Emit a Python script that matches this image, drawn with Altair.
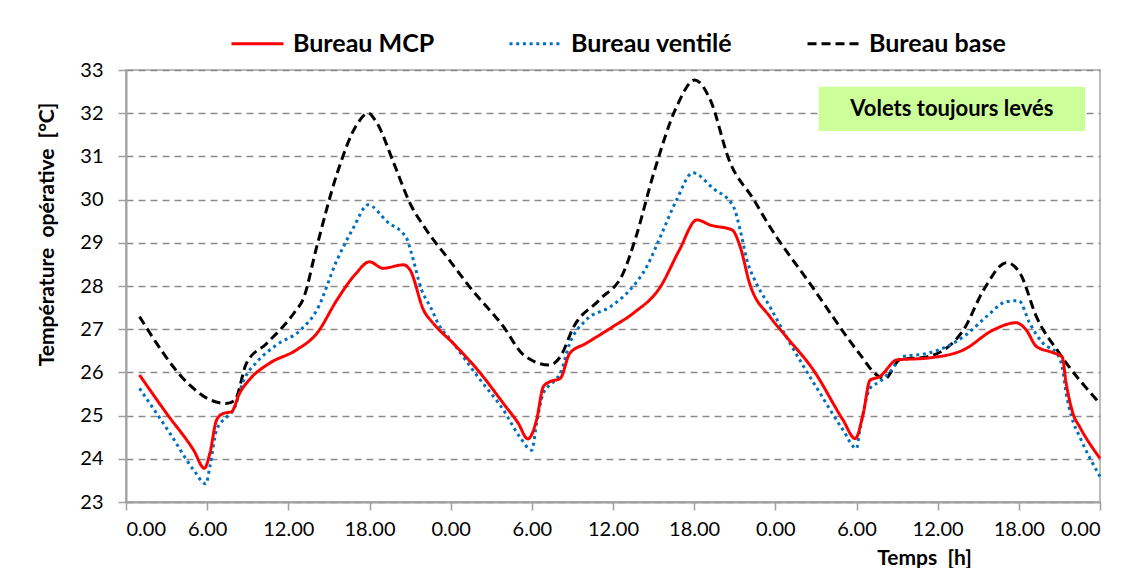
import altair as alt
import pandas as pd

# ---- data ----
mcp_h = [1, 3, 5, 5.8, 6.2, 6.7, 7.2, 7.8, 8.4, 9.2, 10.6, 12.6, 14.1, 15.6, 17.0, 18.0, 19.0, 20.5, 21.0, 22.0,
         22.7, 24.2, 26.2, 27.9, 29.0, 29.7, 30.35, 30.85, 31.3, 32.1, 32.8, 34.0, 36.0, 37.5, 39.5, 40.9, 42.2,
         43.2, 44.8, 45.4, 46.1, 47.6, 48.8, 50.8, 53.0, 53.9, 54.5, 55.0, 55.7, 57.0, 59.2, 61.9, 64.1, 65.8,
         66.55, 67.3, 68.5, 69.2, 69.5, 70.0, 70.5, 72.0]
mcp_t = [25.94, 25.05, 24.2, 23.78, 24.13, 24.9, 25.05, 25.09, 25.52, 25.86, 26.21, 26.52, 26.9, 27.68, 28.29,
         28.56, 28.41, 28.49, 28.37, 27.44, 27.14, 26.67, 25.98, 25.28, 24.82, 24.46, 24.9, 25.67, 25.78, 25.86,
         26.44, 26.67, 27.06, 27.37, 27.98, 28.83, 29.53, 29.41, 29.3, 28.91, 28.06, 27.29, 26.83, 26.06, 24.9,
         24.47, 25.05, 25.82, 25.9, 26.29, 26.33, 26.52, 26.98, 27.15, 26.98, 26.6, 26.46, 26.36, 25.75, 25.05,
         24.74, 24.01]

vent_h = [1, 3.25, 5.0, 5.9, 6.2, 6.7, 7.45, 7.95, 8.7, 9.7, 11.1, 12.9, 14.1, 15.6, 16.8, 17.9, 19.3, 20.75,
          21.1, 21.85, 22.5, 23.2, 23.8, 26.2, 27.9, 29.1, 30.0, 30.35, 30.85, 31.6, 32.1, 32.8, 34.0, 35.8, 37.25,
          38.5, 39.5, 40.7, 41.9, 43.4, 44.9, 45.4, 45.9, 46.6, 47.6, 48.8, 51.3, 53.0, 54.0, 54.25, 55.0, 55.7,
          56.5, 57.4, 59.2, 60.7, 62.1, 63.6, 65.1, 66.0, 66.8, 67.8, 68.8, 69.2, 69.5, 69.9, 70.5, 72.0]
vent_t = [25.63, 24.59, 23.74, 23.42, 23.82, 24.67, 24.97, 25.13, 25.82, 26.25, 26.63, 26.98, 27.44, 28.6, 29.34,
          29.88, 29.49, 29.1, 28.76, 27.91, 27.52, 27.06, 26.83, 25.82, 25.13, 24.51, 24.2, 24.82, 25.52, 25.78,
          25.98, 26.67, 27.21, 27.52, 27.91, 28.45, 29.14, 29.99, 30.62, 30.26, 29.84, 29.3, 28.6, 28.06, 27.52,
          26.83, 25.52, 24.67, 24.24, 24.67, 25.63, 25.78, 26.02, 26.36, 26.44, 26.6, 26.87, 27.29, 27.64, 27.66,
          27.14, 26.67, 26.44, 26.13, 25.52, 24.97, 24.51, 23.59]

base_h = [1, 4.7, 6.0, 7.4, 8.05, 8.9, 10.4, 12.5, 13.1, 14.1, 15.6, 17.05, 17.9, 18.5, 19.8, 21.0, 22.2, 24.0,
          25.4, 27.9, 29.4, 31.3, 32.1, 33.1, 35.0, 36.8, 37.7, 39.0, 40.7, 42.05, 43.2, 44.6, 46.4, 47.6, 50.55,
          54.2, 55.5, 56.1, 57.2, 59.2, 61.9, 63.4, 65.1, 66.1, 67.3, 69.0, 72.0]
base_t = [27.29, 25.71, 25.4, 25.28, 25.36, 26.21, 26.67, 27.41, 27.7, 28.91, 30.6, 31.73, 32.0, 31.8, 30.84,
          29.91, 29.3, 28.56, 27.98, 27.06, 26.4, 26.17, 26.36, 27.06, 27.68, 28.33, 29.14, 30.6, 32.15, 32.77,
          32.3, 30.9, 30.0, 29.37, 28.06, 26.44, 25.94, 25.86, 26.29, 26.36, 26.98, 27.91, 28.54, 28.29, 27.29,
          26.44, 25.28]

series_names = ["Bureau MCP", "Bureau ventilé", "Bureau base"]
series_colors = ["#ff0000", "#0070c0", "#000000"]
series_dash = [[1, 0], [3, 3.7], [9, 5]]

x_ticks = list(range(0, 73, 6))
y_ticks = list(range(23, 34))

note_text = ["Volets toujours levés"]
note_x1, note_x2 = [51.2], [70.9]
note_y1, note_y2 = [31.59], [32.61]

# ---- tables ----
rows = []
for name, hs, ts in [(series_names[2], base_h, base_t),
                     (series_names[1], vent_h, vent_t),
                     (series_names[0], mcp_h, mcp_t)]:
    for h, t in zip(hs, ts):
        rows.append({"serie": name, "h": h, "T": t})
df = pd.DataFrame(rows)

note_df = pd.DataFrame({"x1": note_x1, "x2": note_x2, "y1": note_y1, "y2": note_y2,
                        "xm": [(a + b) / 2 for a, b in zip(note_x1, note_x2)],
                        "ym": [(a + b) / 2 for a, b in zip(note_y1, note_y2)],
                        "txt": note_text})

FONT = "Lato"

xscale = alt.Scale(domain=[0, 72], nice=False, zero=False)
yscale = alt.Scale(domain=[23, 33], nice=False, zero=False)

x_axis = alt.Axis(values=x_ticks, labelExpr="(datum.value % 24) + '.00'", grid=False,
                  title="Temps\u00a0 [h]", titleX=798, titleY=62, titleBaseline="alphabetic",
                  titleAnchor="start", titleAlign="center",
                  labelFontSize=20, labelPadding=9, tickSize=8)
y_axis = alt.Axis(values=y_ticks, grid=True, title="Température\u00a0 opérative\u00a0 [°C]",
                  titleX=-79, titleY=164, titleAngle=270, titleAlign="center", titleBaseline="middle",
                  labelFontSize=20, labelPadding=15, tickSize=8)

lines = alt.Chart(df).mark_line(interpolate="monotone", strokeWidth=3).encode(
    x=alt.X("h:Q", scale=xscale, axis=x_axis),
    y=alt.Y("T:Q", scale=yscale, axis=y_axis),
    color=alt.Color("serie:N", scale=alt.Scale(domain=series_names, range=series_colors), title=None),
    strokeDash=alt.StrokeDash("serie:N", scale=alt.Scale(domain=series_names, range=series_dash), title=None),
)

box = alt.Chart(note_df).mark_rect(color="#ccff99").encode(
    x=alt.X("x1:Q", scale=xscale), x2="x2:Q",
    y=alt.Y("y1:Q", scale=yscale), y2="y2:Q",
)
box_text = alt.Chart(note_df).mark_text(font=FONT, fontWeight="bold", fontSize=22, color="#000000").encode(
    x=alt.X("xm:Q", scale=xscale), y=alt.Y("ym:Q", scale=yscale), text="txt:N"
)

chart = alt.layer(box, box_text, lines).properties(
    width=974, height=432,
    autosize=alt.AutoSizeParams(type="none"),
    padding={"left": 118, "top": 62, "right": 20, "bottom": 66},
).configure_view(
    stroke="#a6a6a6", strokeWidth=1.5
).configure_axis(
    labelFont=FONT, titleFont=FONT, labelColor="#000000", titleColor="#000000",
    titleFontWeight="bold", titleFontSize=21,
    domainColor="#a0a0a0", domainWidth=2, tickColor="#a0a0a0", tickWidth=1.5,
    gridColor="#8c8c8c", gridDash=[7, 5], gridWidth=1.3,
).configure_legend(
    orient="none", legendX=104, legendY=-54, direction="horizontal",
    symbolType="stroke", symbolSize=2704, symbolStrokeWidth=3,
    labelFont=FONT, labelFontWeight="bold", labelFontSize=25, labelColor="#000000",
    labelOffset=8, columnPadding=68, labelLimit=400,
)

chart.save("out.html", embed_options={"renderer": "svg", "actions": False})
